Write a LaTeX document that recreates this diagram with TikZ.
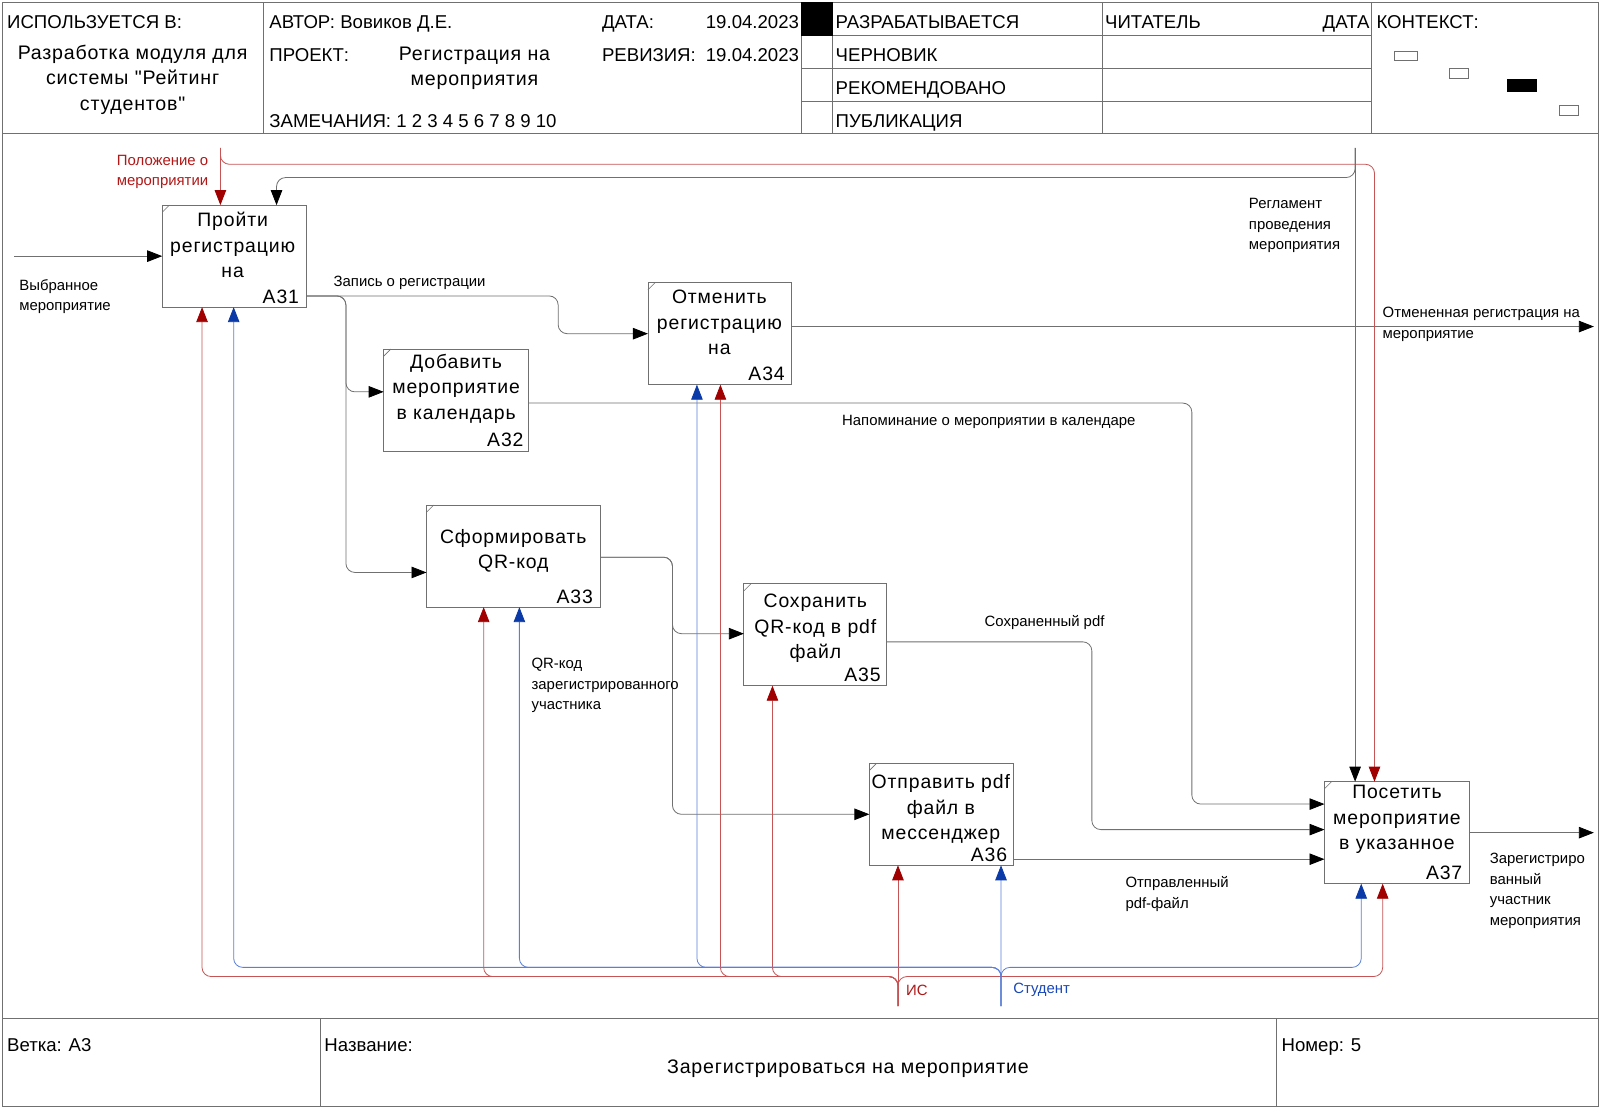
\documentclass[tikz,border=0pt]{standalone}
\usepackage{fontspec}
\setmainfont{Liberation Sans}
\newfontfamily\boxfamily[LetterSpace=4.5]{Liberation Sans}
\newfontfamily\titfamily[LetterSpace=4]{Liberation Sans}
\usetikzlibrary{arrows.meta,calc}
\definecolor{lgray}{HTML}{707070}
\definecolor{lred}{HTML}{C65454}
\definecolor{dred}{HTML}{A00000}
\definecolor{lblue}{HTML}{5A7FD6}
\definecolor{dblue}{HTML}{0A3AA8}
\definecolor{tred}{HTML}{B01818}
\definecolor{tblue}{HTML}{1A48B8}
\begin{document}
\begin{tikzpicture}[x=1.0204pt,y=-1.0204pt,
  every node/.style={inner sep=0pt, outer sep=0pt},
  frame/.style={draw=lgray, line width=0.9pt},
  proc/.style={draw=lgray, line width=0.9pt, minimum height=102pt, fill=white},
  ptxt/.style={font=\boxfamily\fontsize{19.4}{25.5}\selectfont, align=center},
  pnum/.style={font=\boxfamily\fontsize{19.4}{22}\selectfont, anchor=base east},
  hdr/.style={font=\fontsize{18.6}{25}\selectfont, anchor=base west},
  htit/.style={font=\titfamily\fontsize{19.6}{25.5}\selectfont, align=center},
  lbl/.style={font=\fontsize{14.9}{20.4}\selectfont, align=left, anchor=west},
  flow/.style={draw=lgray, line width=0.8pt, rounded corners=9pt, -{Triangle[length=15pt,width=11.5pt,color=black]}},
  ctrlred/.style={draw=lred, line width=0.8pt, rounded corners=9pt, -{Triangle[length=15pt,width=11.5pt,color=dred]}},
  mechred/.style={draw=lred, line width=0.8pt, rounded corners=9pt, -{Triangle[length=15pt,width=11.5pt,color=dred]}},
  mechblue/.style={draw=lblue, line width=0.8pt, rounded corners=9pt, -{Triangle[length=15pt,width=11.5pt,color=dblue]}},
  ctx/.style={draw=lgray, line width=0.6pt}
]
\useasboundingbox (0,0) rectangle (1568,1086);
\fill[white] (0,0) rectangle (1568,1086);
% ---------- frame ----------
\draw[frame] (2,2) rectangle (1566,1084);
\draw[frame] (2,131) -- (1566,131);
\draw[frame] (2,998) -- (1566,998);
\foreach \x in {258,785,816,1080,1344} \draw[frame] (\x,2) -- (\x,131);
\foreach \y in {35,67,99} \draw[frame] (785,\y) -- (1344,\y);
\fill[black] (785,2) rectangle (816,35);
\draw[frame] (314,998) -- (314,1084);
\draw[frame] (1251,998) -- (1251,1084);
\draw[ctx] (1366,50) rectangle (1389,59);
\draw[ctx] (1420,67) rectangle (1439,77);
\fill[black] (1477,77) rectangle (1506,90);
\draw[ctx] (1528,103) rectangle (1547,113);
% ---------- header texts ----------
\node[hdr] (h1) at (7,27.5) {ИСПОЛЬЗУЕТСЯ В:};
\node[htit] (h2) at (130,78) {Разработка модуля для\\системы "Рейтинг\\студентов"};
\node[hdr] (h3) at (264,27.5) {АВТОР: Вовиков Д.Е.};
\node[hdr] (h4) at (264,60.5) {ПРОЕКТ:};
\node[htit] (h5) at (465,67) {Регистрация на\\мероприятия};
\node[hdr] (h6) at (264,124.5) {ЗАМЕЧАНИЯ: 1 2 3 4 5 6 7 8 9 10};
\node[hdr] (h7) at (590,27.5) {ДАТА:};
\node[hdr,anchor=base east] (h8) at (783,27.5) {19.04.2023};
\node[hdr] (h9) at (590,60.5) {РЕВИЗИЯ:};
\node[hdr,anchor=base east] (h10) at (783,60.5) {19.04.2023};
\node[hdr] (h11) at (819,27.5) {РАЗРАБАТЫВАЕТСЯ};
\node[hdr] (h12) at (819,60.5) {ЧЕРНОВИК};
\node[hdr] (h13) at (819,92.5) {РЕКОМЕНДОВАНО};
\node[hdr] (h14) at (819,124.5) {ПУБЛИКАЦИЯ};
\node[hdr] (h15) at (1083,27.5) {ЧИТАТЕЛЬ};
\node[hdr,anchor=base east] (h16) at (1342,27.5) {ДАТА};
\node[hdr] (h17) at (1349,27.5) {КОНТЕКСТ:};
% ---------- footer texts ----------
\node[hdr] (f1) at (7,1030) {Ветка: A3};
\node[hdr] (f2) at (318,1030) {Название:};
\node[hdr] (f3) at (1256,1030) {Номер: 5};
\node[htit,anchor=base] (f4) at (831,1052) {Зарегистрироваться на мероприятие};
% ---------- boxes ----------
\node[proc, minimum width=143.9pt] (A31) at (229.5,251) {};
\node[proc, minimum width=144.9pt] (A32) at (447,392) {};
\node[proc, minimum width=173.5pt] (A33) at (503,545) {};
\node[proc, minimum width=143.9pt] (A34) at (705.5,327) {};
\node[proc, minimum width=142.9pt] (A35) at (799,622) {};
\node[proc, minimum width=143.9pt] (A36) at (922.5,798) {};
\node[proc, minimum width=144.9pt] (A37) at (1369,816) {};
\foreach \b in {A31,A32,A33,A34,A35,A36,A37}
  \draw[ctx] ($(\b.north west)+(0,7)$) -- ($(\b.north west)+(7,0)$);
\node[ptxt] (t31) at (228,240) {Пройти\\регистрацию\\на};
\node[ptxt] (t32) at (447,381) {Добавить\\мероприятие\\в календарь};
\node[ptxt] (t33) at (503,540) {Сформировать\\QR-код};
\node[ptxt] (t34) at (705,316) {Отменить\\регистрацию\\на};
\node[ptxt] (t35) at (799,616) {Сохранить\\QR-код в pdf\\файл};
\node[ptxt] (t36) at (922,793) {Отправить pdf\\файл в\\мессенджер};
\node[ptxt] (t37) at (1369,803) {Посетить\\мероприятие\\в указанное};
\node[pnum] (n31) at ($(A31.south east)+(-7,-4)$) {A31};
\node[pnum] (n32) at ($(A32.south east)+(-5,-4)$) {A32};
\node[pnum] (n33) at ($(A33.south east)+(-7,-4)$) {A33};
\node[pnum] (n34) at ($(A34.south east)+(-7,-4)$) {A34};
\node[pnum] (n35) at ($(A35.south east)+(-6,-4)$) {A35};
\node[pnum] (n36) at ($(A36.south east)+(-6,-4)$) {A36};
\node[pnum] (n37) at ($(A37.south east)+(-7,-4)$) {A37};
% ---------- inputs / outputs ----------
\coordinate (in1) at (14,251);
\draw[flow] (in1) -- (A31.west);
\draw[flow] ($(A31.east)+(0,39)$) -- (547,290) -- (547,327) -- (A34.west);
\draw[flow] ($(A31.east)+(0,39)$) -- (339,290) -- (339,384) -- ($(A32.west)+(0,-8)$);
\draw[flow] ($(A31.east)+(0,39)$) -- (339,290) -- (339,561) -- ($(A33.west)+(0,16)$);
\draw[flow] ($(A32.east)+(0,3)$) -- (1168,395) -- (1168,788) -- ($(A37.west)+(0,-28)$);
\draw[flow] ($(A33.east)+(0,1)$) -- (659,546) -- (659,621) -- ($(A35.west)+(0,-1)$);
\draw[flow] ($(A33.east)+(0,1)$) -- (659,546) -- (659,798) -- (A36.west);
\draw[flow] ($(A35.east)+(0,7)$) -- (1070,629) -- (1070,813) -- ($(A37.west)+(0,-3)$);
\draw[flow] ($(A36.east)+(0,44)$) -- ($(A37.west)+(0,26)$);
\coordinate (out34) at (1562,320);
\draw[flow] ($(A34.east)+(0,-7)$) -- (out34);
\coordinate (out37) at (1562,816);
\draw[flow] (A37.east) -- (out37);
% ---------- controls ----------
\coordinate (cR) at (216,145);
\draw[ctrlred] (cR) -- ($(A31.north)+(-13.5,0)$);
\draw[ctrlred] (cR) -- (216,161) -- (1347,161) -- ($(A37.north)+(-22,0)$);
\coordinate (cB) at (1328,145);
\draw[flow] (cB) -- ($(A37.north)+(-41,0)$);
\draw[flow] (cB) -- (1328,174) -- (271,174) -- ($(A31.north)+(41.5,0)$);
% ---------- mechanisms ----------
\coordinate (mIS) at (880,986);
\draw[mechred] (mIS) -- ($(A36.south)+(-42.5,0)$);
\draw[mechred] (mIS) -- (880,957) -- (198,957) -- ($(A31.south)+(-31.5,0)$);
\draw[mechred] (mIS) -- (880,957) -- (474,957) -- ($(A33.south)+(-29,0)$);
\draw[mechred] (mIS) -- (880,957) -- (706,957) -- ($(A34.south)+(0.5,0)$);
\draw[mechred] (mIS) -- (880,957) -- (757,957) -- ($(A35.south)+(-42,0)$);
\draw[mechred] (mIS) -- (880,957) -- (1355,957) -- ($(A37.south)+(-14,0)$);
\coordinate (mST) at (981,986);
\draw[mechblue] (mST) -- ($(A36.south)+(58.5,0)$);
\draw[mechblue] (mST) -- (981,948) -- (229,948) -- ($(A31.south)+(-0.5,0)$);
\draw[mechblue] (mST) -- (981,948) -- (509,948) -- ($(A33.south)+(6,0)$);
\draw[mechblue] (mST) -- (981,948) -- (683,948) -- ($(A34.south)+(-22.5,0)$);
\draw[mechblue] (mST) -- (981,948) -- (1334,948) -- ($(A37.south)+(-35,0)$);
% ---------- labels ----------
\node[lbl] (l1) at (19,290.5) {Выбранное\\мероприятие};
\node[lbl, align=right, anchor=east, text=tred] (l2) at (204,168.5) {Положение о\\мероприятии};
\node[lbl] (l3) at (1224,221) {Регламент\\проведения\\мероприятия};
\node[lbl] (l4) at (327,277) {Запись о регистрации};
\node[lbl] (l5) at (1355,318) {Отмененная регистрация на\\мероприятие};
\node[lbl, anchor=center] (l6) at (969,413) {Напоминание о мероприятии в календаре};
\node[lbl] (l7) at (521,672) {QR-код\\зарегистрированного\\участника};
\node[lbl] (l8) at (965,610) {Сохраненный pdf};
\node[lbl] (l9) at (1103,876) {Отправленный\\pdf-файл};
\node[lbl] (l10) at (1460,873) {Зарегистриро\\ванный\\участник\\мероприятия};
\node[lbl, text=tred] (l11) at (888,971) {ИС};
\node[lbl, text=tblue] (l12) at (993,970) {Студент};
\end{tikzpicture}
\end{document}
